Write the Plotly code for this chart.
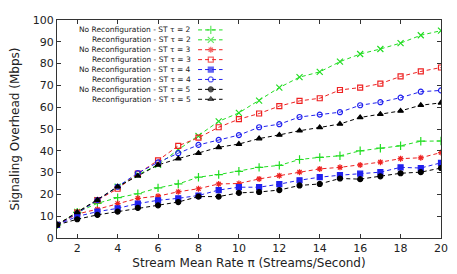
import plotly.graph_objects as go

x = list(range(1, 21))

no_reconf_t2 = [6.0, 11.8, 15.9, 18.5, 20.3, 23.0, 24.8, 27.9, 29.1, 30.6, 32.4, 33.3, 36.0, 37.0, 37.7, 40.0, 41.2, 42.3, 44.4, 44.5]
reconf_t2 = [6.0, 12.0, 17.4, 23.5, 29.0, 33.6, 40.5, 46.8, 53.5, 57.4, 63.0, 69.0, 73.8, 76.2, 80.9, 84.4, 86.7, 89.4, 93.0, 95.1]
no_reconf_t3 = [6.0, 11.0, 13.2, 15.8, 18.2, 19.2, 21.2, 22.6, 24.8, 25.0, 27.1, 28.6, 30.2, 31.7, 32.4, 33.5, 34.8, 36.4, 36.8, 39.2]
reconf_t3 = [6.0, 11.7, 17.4, 22.6, 29.5, 35.6, 42.3, 46.0, 50.8, 54.5, 57.1, 60.5, 62.9, 64.1, 67.9, 69.0, 70.8, 74.1, 76.4, 78.2]
no_reconf_t4 = [6.0, 9.9, 12.1, 13.6, 15.8, 17.3, 18.2, 19.5, 22.0, 23.3, 23.3, 24.7, 26.5, 27.9, 28.8, 29.5, 30.2, 32.4, 32.1, 34.5]
reconf_t4 = [6.0, 11.3, 17.4, 23.5, 29.8, 34.7, 38.9, 42.7, 45.0, 47.2, 50.8, 52.2, 55.5, 56.6, 57.7, 60.9, 62.3, 64.4, 67.1, 67.7]
no_reconf_t5 = [6.0, 8.6, 10.6, 12.1, 13.8, 15.0, 16.5, 19.0, 19.0, 20.7, 21.1, 22.0, 24.1, 24.8, 27.3, 27.0, 28.3, 29.7, 30.2, 32.1]
reconf_t5 = [6.0, 11.8, 17.4, 23.5, 28.5, 33.5, 36.4, 38.9, 41.6, 43.1, 45.6, 47.3, 49.2, 50.7, 52.3, 55.3, 56.8, 58.3, 60.9, 62.0]

series_names = [
    "No Reconfiguration - ST \u03c4 = 2",
    "Reconfiguration - ST \u03c4 = 2",
    "No Reconfiguration - ST \u03c4 = 3",
    "Reconfiguration - ST \u03c4 = 3",
    "No Reconfiguration - ST \u03c4 = 4",
    "Reconfiguration - ST \u03c4 = 4",
    "No Reconfiguration - ST \u03c4 = 5",
    "Reconfiguration - ST \u03c4 = 5",
]
series_values = [no_reconf_t2, reconf_t2, no_reconf_t3, reconf_t3,
                 no_reconf_t4, reconf_t4, no_reconf_t5, reconf_t5]

x_ticks = [2, 4, 6, 8, 10, 12, 14, 16, 18, 20]
y_ticks = [0, 10, 20, 30, 40, 50, 60, 70, 80, 90, 100]

GREEN = "#22dd22"
RED = "#ee2222"
BLUE = "#2020ee"
BLACK = "#000000"

styles = [
    (GREEN, "cross-thin-open", 6),
    (GREEN, "x-thin-open", 6),
    (RED, "asterisk-open", 5),
    (RED, "square-open", 5),
    (BLUE, "square", 5),
    (BLUE, "circle-open", 5),
    (BLACK, "circle", 5),
    (BLACK, "triangle-up", 5),
]

DASH = "4px,3px"
fig = go.Figure()
for name, ys, (color, symbol, size) in zip(series_names, series_values, styles):
    fig.add_trace(go.Scatter(
        x=x, y=ys, name=name, mode="lines+markers", showlegend=False,
        line=dict(color=color, width=1, dash=DASH),
        marker=dict(symbol=symbol, size=size, color=color,
                    line=dict(color=color, width=1.2)),
    ))

# gnuplot-style key: text right-aligned, sample on the right.
# Drawn on a helper overlay axis measured in plot-area pixels (0..392 x, 0..220 y down).
key_text_right = 139
key_sample = [144, 157, 169]
key_row0 = 10
key_row_step = 10
for i, (name, (color, symbol, size)) in enumerate(zip(series_names, styles)):
    ry = key_row0 + i * key_row_step
    fig.add_trace(go.Scatter(
        x=key_sample, y=[ry] * 3, mode="lines+markers", showlegend=False,
        xaxis="x2", yaxis="y2", hoverinfo="skip",
        line=dict(color=color, width=1, dash=DASH),
        marker=dict(symbol=symbol, size=[0, size, 0], color=color,
                    line=dict(color=color, width=1.2)),
    ))
    fig.add_annotation(
        x=key_text_right, y=ry, xref="x2", yref="y2", text=name,
        showarrow=False, xanchor="right", yanchor="middle",
        font=dict(family="DejaVu Sans", size=7.5, color="#222222"),
    )

FONT = "DejaVu Sans"
fig.update_layout(
    width=449, height=266,
    margin=dict(l=41, r=16, t=6, b=32),
    paper_bgcolor="white", plot_bgcolor="white",
    font=dict(family=FONT, color="#222222", size=11),
    showlegend=False,
    xaxis=dict(
        range=[1, 20], tickvals=x_ticks, ticks="inside", ticklen=4,
        tickcolor="#333", showline=True, linecolor="#333", linewidth=1,
        mirror="ticks", showgrid=False, zeroline=False,
        tickfont=dict(size=11),
        title=dict(text="Stream Mean Rate \u03c0 (Streams/Second)", font=dict(size=12), standoff=4),
    ),
    yaxis=dict(
        range=[0, 100], tickvals=y_ticks, ticks="inside", ticklen=4,
        tickcolor="#333", showline=True, linecolor="#333", linewidth=1,
        mirror="ticks", showgrid=False, zeroline=False,
        tickfont=dict(size=11),
        title=dict(text="Signaling Overhead (Mbps)", font=dict(size=12), standoff=10),
    ),
    xaxis2=dict(overlaying="x", range=[0, 392], visible=False, fixedrange=True),
    yaxis2=dict(overlaying="y", range=[220, 0], visible=False, fixedrange=True),
)

fig.write_html("out.html")
